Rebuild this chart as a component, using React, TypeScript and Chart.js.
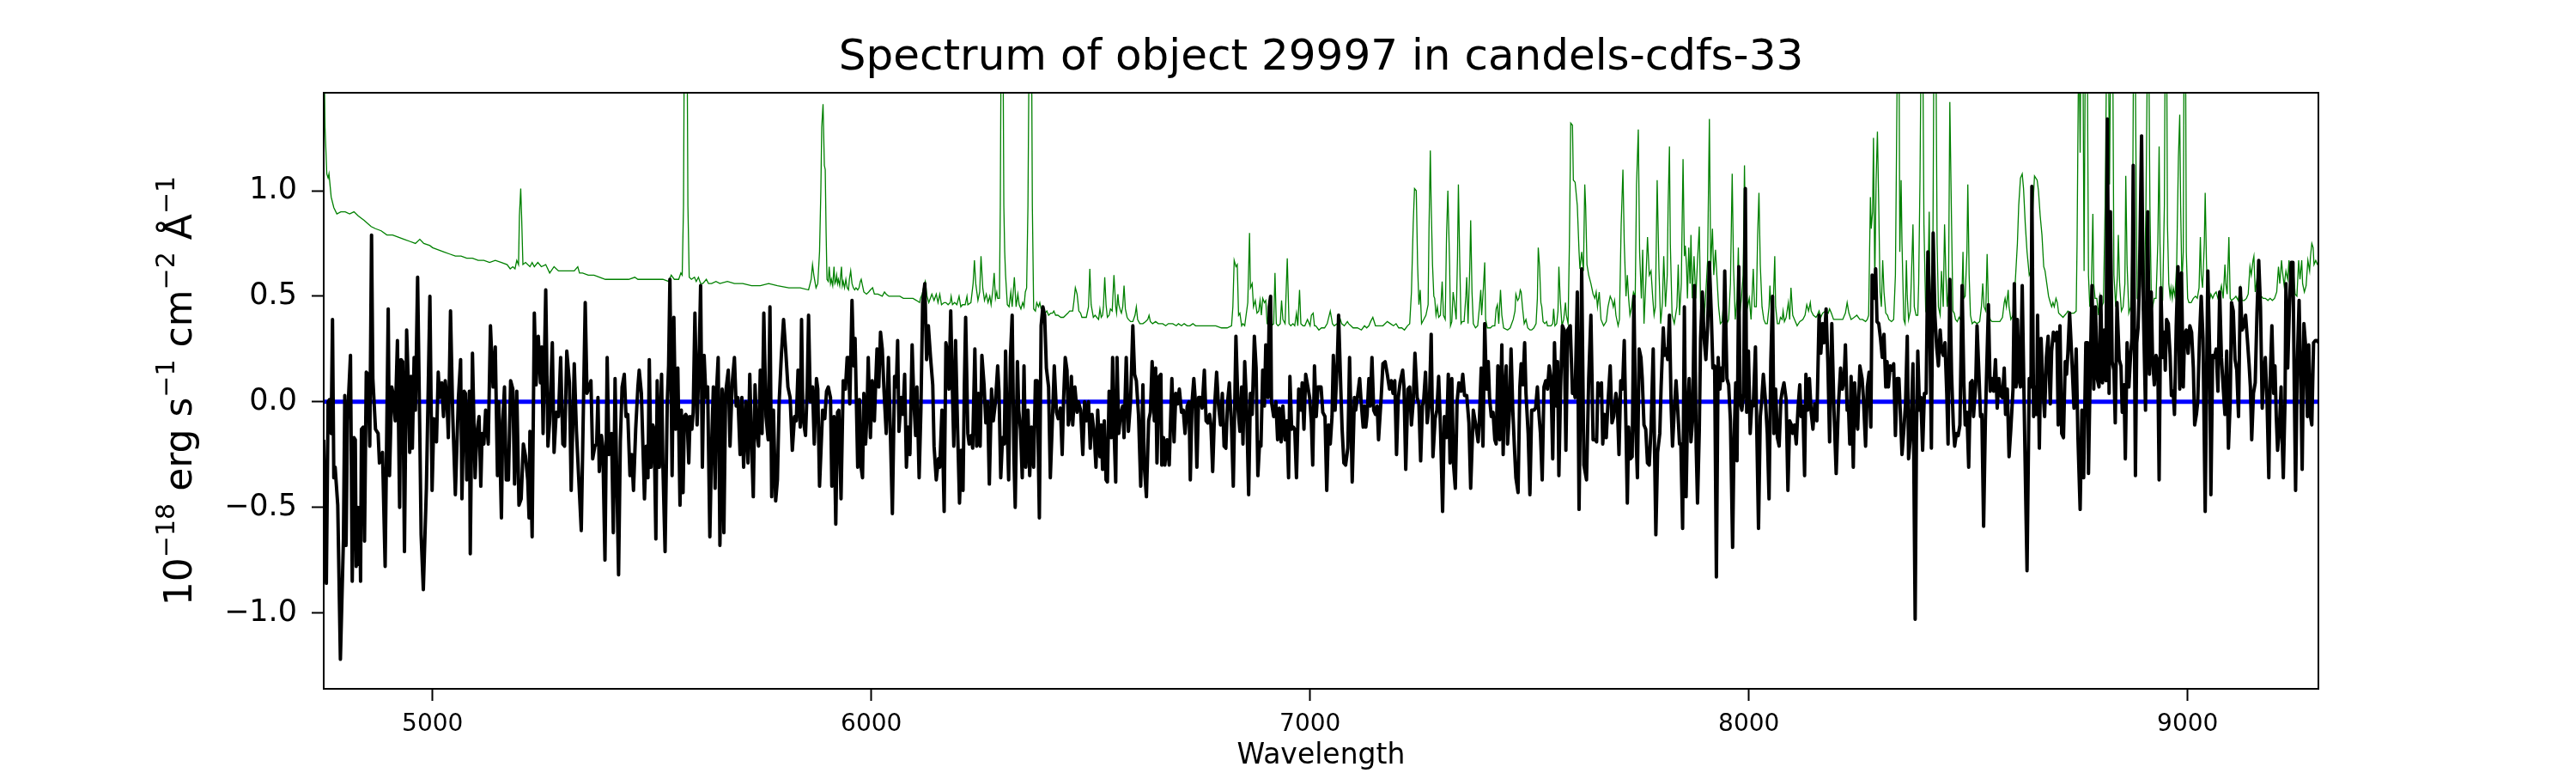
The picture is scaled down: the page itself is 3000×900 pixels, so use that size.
import React, { useEffect, useRef } from "react";
import { Chart, registerables } from "chart.js";

Chart.register(...registerables);

const TITLE = "Spectrum of object 29997 in candels-cdfs-33";
const X_LABEL = "Wavelength";
// [text, isSuperscript]
const Y_LABEL_PARTS: [string, boolean][] = [
  ["10", false], ["\u221218", true], [" erg s", false], ["\u22121", true],
  [" cm", false], ["\u22122", true], [" \u00C5", false], ["\u22121", true],
];
const X_TICKS = [5000, 6000, 7000, 8000, 9000];
const Y_TICKS = [-1.0, -0.5, 0.0, 0.5, 1.0];
const Y_TICK_LABELS = ["\u22121.0", "\u22120.5", "0.0", "0.5", "1.0"];
const X_RANGE = [4752, 9298];
const Y_RANGE = [-1.36, 1.464];

// zero reference line
const ZERO_LINE: number[][] = [[4752, 0], [9298, 0]];

// observed flux [wavelength, flux]
const FLUX: number[][] = [
[4752,-0.18],[4758,-0.86],[4762,0.00],[4765,0.01],[4769,-0.15],[4772,0.39],[4775,-0.36],[4778,-0.31],[4784,-0.49],[4790,-1.22],
[4797,-0.65],[4800,0.03],[4803,-0.68],[4806,-0.09],[4813,0.22],[4817,-0.85],[4821,-0.17],[4824,-0.18],[4826,-0.78],[4829,-0.50],
[4831,-0.77],[4834,-0.50],[4836,-0.85],[4838,-0.13],[4842,-0.12],[4845,-0.66],[4849,0.14],[4853,0.13],[4857,-0.21],[4861,0.79],
[4864,0.11],[4870,-0.13],[4876,-0.15],[4879,-0.29],[4886,-0.24],[4892,-0.78],[4899,0.44],[4902,-0.35],[4907,0.07],[4910,0.04],
[4915,-0.09],[4920,0.29],[4925,-0.50],[4928,0.20],[4932,0.19],[4936,-0.71],[4941,0.34],[4945,0.07],[4948,-0.24],[4951,0.12],
[4954,-0.22],[4958,0.21],[4961,-0.04],[4966,0.59],[4971,-0.15],[4974,-0.63],[4979,-0.89],[4986,-0.41],[4994,0.50],[4999,-0.42],
[5003,-0.08],[5009,-0.19],[5013,0.14],[5016,0.02],[5021,0.09],[5025,-0.07],[5029,0.10],[5033,0.00],[5036,-0.17],[5041,0.43],
[5046,-0.06],[5052,-0.44],[5059,0.02],[5064,0.20],[5067,-0.46],[5072,0.05],[5075,0.04],[5078,-0.37],[5084,0.05],[5086,-0.72],
[5091,0.23],[5097,-0.36],[5101,-0.15],[5106,-0.07],[5110,-0.40],[5113,-0.15],[5117,-0.20],[5121,-0.04],[5127,-0.20],[5132,0.36],
[5138,0.07],[5143,0.26],[5148,-0.35],[5151,0.00],[5157,-0.55],[5160,-0.09],[5164,0.07],[5168,-0.37],[5173,-0.37],[5178,0.10],
[5183,0.06],[5187,-0.39],[5192,0.05],[5197,-0.49],[5202,-0.46],[5207,-0.20],[5212,-0.26],[5217,-0.37],[5220,-0.55],[5222,-0.14],
[5227,-0.64],[5232,0.42],[5236,0.08],[5241,0.31],[5246,0.09],[5249,0.26],[5252,-0.15],[5258,0.53],[5263,-0.21],[5267,-0.09],
[5273,0.28],[5277,-0.24],[5282,-0.05],[5287,-0.07],[5292,0.21],[5297,-0.20],[5301,-0.21],[5306,0.24],[5312,0.09],[5316,-0.42],
[5323,0.18],[5328,-0.14],[5339,-0.61],[5348,0.47],[5352,0.04],[5357,0.07],[5361,0.10],[5365,-0.27],[5370,-0.21],[5374,-0.20],
[5377,0.02],[5380,-0.33],[5385,-0.16],[5388,-0.21],[5393,-0.75],[5398,0.21],[5402,-0.25],[5408,-0.15],[5412,-0.62],[5416,0.11],
[5419,-0.25],[5424,-0.82],[5428,-0.19],[5432,0.07],[5437,0.13],[5441,-0.07],[5445,-0.06],[5450,-0.35],[5454,-0.25],[5458,-0.42],
[5463,-0.13],[5468,0.07],[5471,0.15],[5476,0.04],[5483,-0.46],[5487,-0.21],[5491,-0.36],[5494,0.20],[5498,-0.31],[5502,-0.11],
[5505,-0.13],[5509,-0.65],[5512,0.10],[5517,-0.31],[5522,0.13],[5525,-0.30],[5530,-0.71],[5535,0.00],[5538,0.17],[5541,0.58],
[5546,-0.35],[5550,0.40],[5554,-0.13],[5559,0.16],[5564,-0.49],[5567,-0.04],[5571,-0.43],[5574,-0.07],[5577,-0.06],[5580,-0.07],
[5584,-0.29],[5587,-0.07],[5591,-0.13],[5594,-0.05],[5598,0.42],[5603,-0.11],[5608,0.25],[5611,0.55],[5615,-0.31],[5619,0.22],
[5623,0.02],[5627,0.07],[5632,-0.64],[5636,-0.21],[5640,0.07],[5644,-0.41],[5647,0.04],[5651,0.21],[5655,-0.68],[5660,0.06],
[5664,-0.62],[5668,0.04],[5674,0.15],[5678,-0.21],[5683,0.09],[5688,0.21],[5692,-0.02],[5696,0.02],[5701,-0.25],[5705,0.02],
[5709,-0.31],[5714,0.00],[5719,-0.29],[5723,0.13],[5727,-0.19],[5731,-0.45],[5735,0.08],[5739,-0.14],[5743,-0.21],[5747,0.15],
[5751,-0.15],[5755,0.42],[5760,-0.07],[5765,-0.18],[5769,0.45],[5773,-0.45],[5777,-0.04],[5782,-0.47],[5786,-0.37],[5790,0.00],
[5795,0.22],[5800,0.39],[5805,0.24],[5810,0.07],[5815,0.02],[5820,-0.23],[5825,-0.07],[5829,-0.09],[5833,0.15],[5838,-0.12],
[5841,0.39],[5844,-0.07],[5850,-0.16],[5854,0.07],[5857,0.41],[5861,0.00],[5866,0.07],[5870,-0.20],[5875,0.11],[5878,0.06],
[5882,-0.40],[5889,-0.04],[5894,-0.08],[5898,0.05],[5902,0.07],[5907,0.02],[5910,-0.40],[5915,-0.07],[5919,-0.58],[5923,-0.05],
[5926,-0.04],[5931,-0.46],[5936,0.10],[5941,0.06],[5945,0.21],[5948,0.21],[5951,-0.01],[5956,0.48],[5960,0.17],[5963,0.30],
[5969,-0.31],[5973,0.01],[5976,-0.30],[5980,-0.36],[5983,0.04],[5987,-0.20],[5990,-0.07],[5993,0.21],[5998,-0.17],[6002,0.10],
[6007,-0.09],[6010,0.09],[6013,0.25],[6017,0.07],[6021,0.33],[6025,0.25],[6029,0.05],[6034,-0.15],[6039,0.21],[6043,-0.11],
[6048,-0.53],[6053,0.12],[6057,0.07],[6060,0.29],[6063,-0.14],[6068,0.02],[6072,-0.06],[6076,0.13],[6080,-0.31],[6084,-0.12],
[6088,-0.25],[6093,0.27],[6097,0.00],[6101,-0.16],[6104,0.07],[6109,-0.36],[6113,-0.04],[6117,0.47],[6122,0.56],[6126,0.20],
[6130,0.36],[6135,0.21],[6140,0.08],[6143,-0.21],[6148,-0.37],[6153,-0.27],[6156,-0.31],[6161,-0.04],[6166,-0.52],[6170,0.28],
[6173,0.24],[6177,0.06],[6181,0.43],[6185,0.04],[6188,-0.21],[6192,0.29],[6197,-0.16],[6201,-0.48],[6205,-0.23],[6209,-0.42],
[6212,0.07],[6215,0.40],[6220,-0.15],[6223,-0.20],[6228,-0.16],[6231,-0.22],[6236,0.25],[6240,-0.21],[6244,0.04],[6248,-0.21],
[6252,0.22],[6257,0.08],[6261,-0.10],[6265,0.00],[6269,-0.39],[6274,0.06],[6278,-0.09],[6283,0.00],[6288,0.17],[6291,0.05],
[6295,-0.36],[6299,-0.17],[6303,-0.20],[6306,0.24],[6309,-0.06],[6313,-0.37],[6317,0.21],[6321,0.41],[6325,-0.26],[6328,-0.50],
[6333,0.19],[6336,-0.04],[6340,-0.13],[6344,-0.36],[6348,0.17],[6352,-0.31],[6357,-0.04],[6361,-0.35],[6365,-0.12],[6370,-0.31],
[6374,0.10],[6378,0.10],[6383,-0.55],[6387,0.36],[6391,0.45],[6395,0.41],[6399,0.16],[6404,0.07],[6408,-0.36],[6413,-0.07],
[6417,0.17],[6422,-0.05],[6426,-0.08],[6431,-0.03],[6435,-0.25],[6438,0.00],[6442,0.21],[6446,0.15],[6449,-0.11],[6452,-0.07],
[6456,0.12],[6459,-0.11],[6464,0.07],[6469,-0.05],[6472,0.00],[6477,-0.04],[6482,-0.25],[6486,0.00],[6490,-0.09],[6495,0.00],
[6499,-0.22],[6503,-0.06],[6508,-0.15],[6512,-0.31],[6516,-0.04],[6521,-0.26],[6524,-0.11],[6527,-0.32],[6531,-0.09],[6535,-0.37],
[6538,-0.38],[6542,0.05],[6547,-0.17],[6550,0.21],[6553,-0.12],[6557,-0.38],[6560,0.21],[6564,-0.15],[6568,-0.06],[6573,-0.02],
[6576,-0.17],[6581,0.21],[6586,-0.14],[6591,0.01],[6596,0.36],[6600,0.13],[6604,0.10],[6609,-0.06],[6614,-0.40],[6619,0.08],
[6622,-0.30],[6627,-0.45],[6632,-0.09],[6636,-0.05],[6640,0.19],[6645,-0.09],[6648,0.16],[6651,-0.29],[6656,0.12],[6660,0.13],
[6662,-0.30],[6666,-0.17],[6669,-0.30],[6674,-0.18],[6679,-0.30],[6682,-0.09],[6685,0.11],[6690,-0.19],[6694,0.04],[6698,-0.01],
[6702,0.06],[6707,-0.05],[6711,-0.04],[6715,-0.15],[6720,-0.02],[6724,0.00],[6727,-0.37],[6731,0.00],[6735,0.11],[6738,0.02],
[6742,-0.31],[6746,0.02],[6750,0.02],[6754,-0.03],[6759,0.15],[6763,-0.09],[6767,-0.10],[6771,-0.06],[6774,-0.11],[6778,-0.33],
[6783,0.00],[6787,0.14],[6791,-0.01],[6796,-0.11],[6800,0.04],[6804,-0.21],[6808,-0.22],[6812,0.00],[6816,0.09],[6821,-0.12],
[6825,-0.40],[6831,0.31],[6836,-0.04],[6840,-0.14],[6844,0.07],[6847,-0.20],[6851,0.19],[6855,0.00],[6860,-0.44],[6864,0.04],
[6868,-0.06],[6873,0.31],[6877,0.16],[6881,-0.35],[6885,-0.19],[6888,-0.21],[6892,0.15],[6896,-0.02],[6899,0.27],[6904,0.02],
[6907,0.45],[6910,0.50],[6912,0.00],[6917,-0.07],[6922,0.00],[6926,-0.18],[6930,-0.03],[6934,-0.19],[6938,-0.02],[6943,-0.18],
[6947,-0.09],[6951,-0.36],[6954,0.12],[6958,-0.13],[6962,-0.12],[6965,-0.13],[6969,-0.36],[6974,0.06],[6979,-0.04],[6982,0.09],
[6986,-0.13],[6990,0.13],[6995,0.07],[6999,0.02],[7003,-0.10],[7006,-0.30],[7010,0.17],[7014,-0.07],[7018,0.07],[7025,0.07],
[7029,-0.05],[7034,-0.07],[7038,-0.42],[7042,-0.11],[7046,-0.20],[7050,-0.07],[7053,0.22],[7057,-0.04],[7062,0.19],[7065,0.41],
[7070,0.06],[7073,-0.13],[7077,-0.29],[7081,-0.30],[7086,-0.22],[7090,0.21],[7093,-0.07],[7096,-0.38],[7101,0.02],[7104,-0.04],
[7109,0.04],[7113,0.11],[7116,0.01],[7121,-0.12],[7124,-0.02],[7127,-0.12],[7130,-0.06],[7134,0.11],[7137,-0.02],[7141,0.21],
[7145,-0.04],[7149,-0.06],[7153,-0.02],[7156,-0.18],[7162,0.02],[7166,0.18],[7171,0.19],[7176,0.13],[7181,0.06],[7185,0.10],
[7189,0.04],[7193,0.10],[7197,-0.25],[7201,0.02],[7205,0.09],[7211,0.15],[7214,0.07],[7218,-0.32],[7223,0.06],[7227,0.07],
[7231,-0.11],[7235,0.00],[7239,0.23],[7244,0.02],[7248,-0.01],[7252,-0.28],[7256,-0.02],[7259,0.01],[7263,0.14],[7267,-0.10],
[7272,0.00],[7276,0.32],[7280,-0.26],[7285,-0.08],[7289,-0.04],[7293,0.12],[7297,-0.11],[7302,-0.52],[7306,-0.07],[7311,-0.17],
[7315,0.13],[7319,-0.29],[7323,0.11],[7327,-0.30],[7331,-0.41],[7335,0.00],[7339,0.09],[7344,0.05],[7348,0.13],[7352,0.03],
[7357,0.03],[7362,-0.10],[7366,-0.41],[7372,-0.04],[7376,-0.09],[7379,-0.13],[7383,-0.19],[7386,-0.08],[7390,0.16],[7394,-0.21],
[7398,0.37],[7402,0.06],[7406,0.19],[7409,0.02],[7413,-0.07],[7417,-0.05],[7421,-0.18],[7424,-0.20],[7428,0.17],[7432,-0.18],
[7437,0.27],[7440,-0.25],[7443,0.03],[7447,0.17],[7450,-0.20],[7454,-0.06],[7458,0.25],[7462,-0.04],[7466,-0.23],[7469,-0.36],
[7474,-0.43],[7478,0.07],[7481,0.18],[7485,0.08],[7489,0.28],[7492,0.04],[7497,-0.15],[7501,-0.44],[7505,-0.04],[7510,-0.04],
[7514,-0.03],[7518,0.07],[7522,-0.07],[7525,-0.15],[7529,-0.37],[7533,0.07],[7537,0.10],[7541,0.06],[7545,0.17],[7549,0.11],
[7553,-0.27],[7557,0.28],[7561,-0.02],[7564,0.19],[7567,-0.35],[7571,0.07],[7575,0.36],[7579,0.34],[7583,-0.23],[7587,0.34],
[7593,0.36],[7598,0.04],[7601,0.06],[7604,0.02],[7609,0.52],[7613,-0.51],[7616,-0.02],[7619,0.63],[7624,-0.30],[7630,-0.37],
[7635,0.11],[7640,0.41],[7645,-0.18],[7650,-0.18],[7653,-0.19],[7656,0.09],[7660,0.03],[7664,0.09],[7667,-0.20],[7671,-0.06],
[7675,-0.17],[7679,0.00],[7684,0.17],[7688,-0.10],[7692,-0.07],[7697,0.04],[7700,0.00],[7704,-0.25],[7708,0.10],[7712,0.06],
[7716,0.29],[7720,-0.13],[7723,-0.48],[7726,-0.12],[7730,-0.27],[7734,-0.26],[7738,0.50],[7742,-0.11],[7746,-0.36],[7750,0.25],
[7754,0.21],[7757,0.11],[7761,-0.11],[7765,-0.13],[7769,-0.29],[7773,-0.30],[7777,-0.13],[7782,0.25],[7785,-0.22],[7788,-0.63],
[7792,-0.24],[7797,-0.15],[7800,0.07],[7805,0.35],[7808,0.22],[7812,0.25],[7815,0.20],[7819,0.41],[7823,-0.03],[7826,-0.21],
[7830,-0.04],[7834,0.10],[7838,-0.04],[7842,-0.20],[7845,-0.20],[7849,-0.60],[7853,0.45],[7857,-0.45],[7860,-0.07],[7864,0.11],
[7868,-0.19],[7872,-0.08],[7876,0.55],[7880,-0.22],[7883,-0.48],[7887,-0.14],[7890,0.30],[7894,0.52],[7898,0.30],[7902,0.20],
[7906,0.36],[7910,0.66],[7914,0.44],[7918,0.16],[7922,0.17],[7926,-0.83],[7930,0.21],[7934,0.06],[7937,0.16],[7941,0.10],
[7945,0.62],[7950,0.11],[7954,0.08],[7958,-0.09],[7963,-0.69],[7966,-0.21],[7970,0.09],[7973,-0.28],[7977,0.64],[7980,0.00],
[7984,-0.04],[7988,0.04],[7992,1.01],[7995,-0.05],[7999,0.24],[8003,-0.15],[8007,0.00],[8010,-0.02],[8015,0.26],[8018,-0.13],
[8022,-0.60],[8026,-0.07],[8029,0.00],[8033,0.13],[8038,0.00],[8042,-0.15],[8046,-0.46],[8050,0.19],[8054,0.50],[8057,-0.15],
[8061,0.06],[8065,-0.17],[8069,-0.21],[8073,0.01],[8076,0.05],[8080,0.09],[8085,0.01],[8089,-0.42],[8093,-0.09],[8097,-0.11],
[8100,-0.15],[8104,-0.11],[8108,-0.20],[8112,-0.03],[8116,0.08],[8119,-0.07],[8123,-0.02],[8127,-0.35],[8130,0.13],[8134,-0.04],
[8138,0.11],[8142,-0.05],[8146,-0.13],[8150,-0.01],[8155,-0.09],[8160,0.41],[8164,0.23],[8168,0.37],[8172,0.28],[8176,0.44],
[8180,0.19],[8184,-0.19],[8189,0.37],[8194,-0.04],[8199,-0.34],[8204,-0.02],[8209,0.16],[8213,0.06],[8217,0.10],[8220,0.27],
[8224,-0.04],[8227,-0.02],[8230,-0.20],[8233,0.12],[8238,-0.31],[8241,0.09],[8245,-0.07],[8248,-0.13],[8253,0.17],[8258,0.11],
[8261,0.02],[8266,-0.21],[8270,0.07],[8274,0.14],[8278,-0.12],[8281,0.60],[8286,0.49],[8289,0.63],[8292,0.38],[8296,0.37],
[8300,0.30],[8304,0.21],[8308,0.32],[8312,0.07],[8315,0.19],[8318,0.07],[8322,0.17],[8326,0.15],[8330,0.18],[8334,-0.16],
[8338,0.11],[8342,0.11],[8346,-0.09],[8349,-0.25],[8354,-0.11],[8357,-0.01],[8361,0.31],[8364,-0.27],[8369,-0.15],[8374,0.18],
[8379,-1.03],[8382,-0.15],[8385,0.24],[8389,-0.04],[8392,0.02],[8396,-0.23],[8400,0.04],[8404,0.04],[8408,0.71],[8412,0.45],
[8416,-0.22],[8420,0.80],[8424,0.41],[8428,0.26],[8432,0.17],[8436,0.34],[8439,0.25],[8443,0.22],[8447,0.28],[8451,0.04],
[8454,-0.20],[8458,0.58],[8462,0.13],[8466,-0.11],[8469,-0.21],[8473,-0.15],[8477,-0.16],[8481,-0.11],[8486,0.55],[8490,0.09],
[8493,-0.11],[8497,-0.05],[8501,-0.31],[8505,0.09],[8509,0.10],[8512,-0.07],[8517,0.08],[8520,0.36],[8524,0.15],[8528,-0.07],
[8531,-0.06],[8535,-0.59],[8539,-0.09],[8542,0.15],[8546,0.46],[8550,0.05],[8554,0.11],[8558,0.05],[8562,0.20],[8566,-0.03],
[8570,0.11],[8574,0.03],[8578,0.02],[8582,0.16],[8585,-0.06],[8589,0.06],[8593,-0.26],[8597,-0.13],[8602,0.06],[8605,0.56],
[8609,0.07],[8612,0.39],[8616,0.10],[8619,0.07],[8623,0.55],[8627,0.04],[8631,-0.46],[8634,-0.80],[8639,0.11],[8643,0.07],
[8645,1.02],[8649,-0.07],[8652,0.07],[8656,-0.06],[8658,0.41],[8662,-0.22],[8666,0.30],[8670,0.07],[8674,-0.07],[8678,0.21],
[8682,0.31],[8687,-0.01],[8690,0.24],[8694,0.33],[8698,0.29],[8702,0.33],[8705,-0.11],[8709,0.36],[8713,-0.15],[8717,-0.17],
[8721,0.19],[8724,0.13],[8727,0.23],[8731,0.42],[8735,0.25],[8741,-0.03],[8746,0.25],[8750,-0.17],[8755,-0.51],[8759,-0.04],
[8763,-0.36],[8768,0.28],[8772,0.28],[8774,-0.34],[8778,0.15],[8782,0.55],[8786,0.06],[8790,0.45],[8794,0.11],[8798,0.07],
[8802,0.50],[8806,0.09],[8810,0.34],[8814,0.10],[8817,1.34],[8821,0.04],[8824,0.90],[8828,0.19],[8832,0.15],[8835,-0.10],
[8839,0.47],[8844,0.20],[8848,0.17],[8851,-0.05],[8855,0.08],[8858,-0.27],[8862,0.28],[8866,0.07],[8870,0.22],[8873,0.30],
[8876,1.12],[8881,-0.35],[8884,0.28],[8887,0.35],[8890,0.55],[8895,1.26],[8899,0.45],[8904,-0.04],[8909,0.90],[8913,0.13],
[8917,0.52],[8920,0.21],[8924,0.08],[8928,0.22],[8932,0.19],[8935,-0.37],[8939,0.54],[8943,0.21],[8947,0.33],[8949,0.15],
[8952,0.39],[8956,0.37],[8960,0.22],[8963,0.03],[8967,0.05],[8970,-0.06],[8974,0.36],[8978,0.64],[8982,0.06],[8986,0.61],
[8990,0.07],[8993,0.32],[8997,0.34],[9001,0.23],[9005,0.36],[9009,0.33],[9013,0.16],[9016,-0.11],[9020,-0.06],[9023,0.00],
[9027,0.30],[9031,0.50],[9035,0.30],[9040,-0.52],[9043,0.07],[9046,0.62],[9050,0.26],[9053,-0.44],[9057,0.22],[9061,0.21],
[9065,0.25],[9069,0.05],[9073,0.52],[9077,0.21],[9081,0.07],[9085,-0.06],[9089,0.24],[9093,-0.22],[9097,0.00],[9100,0.47],
[9104,0.43],[9108,0.20],[9112,0.15],[9116,-0.07],[9120,0.54],[9124,0.34],[9128,0.36],[9132,0.41],[9136,0.30],[9140,0.18],
[9143,0.07],[9146,-0.18],[9150,0.04],[9154,0.09],[9158,0.42],[9162,0.67],[9166,0.45],[9170,-0.03],[9173,0.13],[9177,0.21],
[9181,0.00],[9185,-0.36],[9188,0.10],[9192,0.36],[9196,0.04],[9199,0.17],[9202,-0.07],[9205,-0.23],[9209,-0.13],[9213,0.07],
[9215,-0.15],[9218,-0.36],[9222,0.01],[9224,0.56],[9228,0.16],[9232,0.45],[9236,0.66],[9240,0.66],[9243,0.07],[9246,-0.42],
[9250,0.19],[9254,0.48],[9258,0.07],[9261,-0.32],[9265,0.37],[9269,0.26],[9273,-0.07],[9276,0.27],[9280,-0.07],[9283,-0.11],
[9287,0.28],[9291,0.29],[9295,0.29],[9298,0.28],
];

// model / sky spectrum [wavelength, flux]
const MODEL: number[][] = [
[4752,1.80],[4755,1.30],[4759,1.08],[4762,1.06],[4764,1.08],[4769,0.97],[4775,0.92],[4782,0.89],[4791,0.90],[4801,0.90],
[4811,0.89],[4821,0.90],[4831,0.88],[4844,0.86],[4860,0.83],[4870,0.82],[4883,0.81],[4896,0.79],[4909,0.79],[4922,0.78],
[4935,0.77],[4948,0.76],[4961,0.75],[4971,0.77],[4980,0.75],[4994,0.74],[5000,0.73],[5013,0.72],[5026,0.71],[5039,0.70],
[5052,0.69],[5065,0.69],[5078,0.68],[5091,0.68],[5104,0.67],[5117,0.67],[5130,0.66],[5143,0.67],[5157,0.66],[5170,0.65],
[5177,0.63],[5183,0.64],[5188,0.63],[5192,0.67],[5196,0.65],[5198,0.88],[5201,1.01],[5203,0.88],[5206,0.65],[5212,0.66],
[5222,0.64],[5227,0.66],[5232,0.64],[5240,0.66],[5248,0.64],[5258,0.65],[5267,0.61],[5277,0.64],[5287,0.62],[5306,0.62],
[5316,0.62],[5323,0.62],[5331,0.64],[5335,0.61],[5342,0.61],[5355,0.60],[5368,0.60],[5381,0.59],[5394,0.58],[5408,0.58],
[5421,0.58],[5437,0.58],[5447,0.58],[5461,0.59],[5468,0.58],[5486,0.58],[5505,0.58],[5525,0.58],[5538,0.57],[5544,0.60],
[5551,0.58],[5561,0.58],[5566,0.61],[5569,0.60],[5572,0.93],[5574,1.80],[5580,1.80],[5582,0.93],[5585,0.59],[5590,0.58],
[5597,0.59],[5601,0.57],[5606,0.59],[5611,0.56],[5616,0.56],[5624,0.58],[5629,0.56],[5636,0.56],[5646,0.57],[5655,0.56],
[5672,0.57],[5688,0.56],[5707,0.56],[5727,0.55],[5747,0.55],[5766,0.56],[5786,0.55],[5812,0.54],[5838,0.54],[5857,0.53],
[5863,0.58],[5866,0.65],[5869,0.60],[5874,0.54],[5878,0.56],[5882,0.71],[5885,1.00],[5887,1.30],[5890,1.41],[5893,1.12],
[5895,1.10],[5897,0.80],[5899,0.58],[5902,0.57],[5904,0.64],[5907,0.56],[5909,0.58],[5912,0.55],[5915,0.64],[5917,0.56],
[5919,0.57],[5921,0.60],[5923,0.56],[5925,0.58],[5928,0.55],[5932,0.64],[5934,0.55],[5936,0.57],[5939,0.54],[5942,0.58],
[5945,0.54],[5948,0.53],[5950,0.58],[5953,0.62],[5956,0.56],[5959,0.54],[5962,0.53],[5965,0.54],[5969,0.53],[5972,0.54],
[5975,0.57],[5977,0.58],[5980,0.55],[5983,0.52],[5989,0.51],[5994,0.52],[5998,0.53],[6003,0.54],[6007,0.51],[6015,0.51],
[6025,0.50],[6030,0.52],[6034,0.51],[6040,0.50],[6050,0.50],[6058,0.50],[6065,0.50],[6073,0.49],[6082,0.49],[6095,0.49],
[6103,0.48],[6110,0.47],[6112,0.49],[6116,0.51],[6120,0.55],[6123,0.57],[6127,0.50],[6131,0.47],[6138,0.51],[6143,0.48],
[6148,0.51],[6152,0.47],[6156,0.51],[6160,0.46],[6166,0.47],[6170,0.47],[6175,0.46],[6180,0.47],[6182,0.50],[6185,0.46],
[6190,0.47],[6195,0.46],[6200,0.50],[6204,0.45],[6208,0.46],[6214,0.46],[6218,0.50],[6220,0.46],[6227,0.47],[6232,0.56],
[6235,0.67],[6238,0.56],[6243,0.48],[6247,0.52],[6250,0.69],[6254,0.54],[6258,0.48],[6262,0.51],[6266,0.47],[6270,0.50],
[6273,0.46],[6277,0.53],[6280,0.61],[6283,0.49],[6286,0.52],[6288,0.49],[6292,0.49],[6294,0.93],[6296,1.80],[6300,1.80],
[6302,0.93],[6304,0.71],[6306,0.60],[6310,0.46],[6314,0.45],[6318,0.52],[6321,0.45],[6326,0.59],[6330,0.45],[6334,0.51],
[6337,0.46],[6341,0.44],[6345,0.47],[6348,0.45],[6351,0.52],[6354,0.54],[6357,0.93],[6360,1.80],[6365,1.80],[6367,0.93],
[6370,0.44],[6374,0.43],[6377,0.47],[6381,0.45],[6384,0.47],[6387,0.44],[6392,0.44],[6396,0.42],[6400,0.43],[6404,0.41],
[6409,0.42],[6413,0.42],[6416,0.43],[6420,0.41],[6425,0.41],[6432,0.40],[6438,0.40],[6443,0.41],[6448,0.42],[6452,0.43],
[6459,0.43],[6462,0.48],[6465,0.54],[6469,0.51],[6473,0.43],[6477,0.42],[6480,0.40],[6485,0.40],[6490,0.40],[6495,0.45],
[6498,0.63],[6501,0.46],[6506,0.40],[6510,0.41],[6514,0.40],[6518,0.39],[6521,0.44],[6524,0.40],[6527,0.41],[6529,0.45],
[6532,0.59],[6535,0.46],[6538,0.40],[6542,0.41],[6545,0.44],[6549,0.43],[6553,0.60],[6557,0.45],[6559,0.42],[6562,0.51],
[6564,0.46],[6568,0.43],[6570,0.42],[6573,0.45],[6576,0.55],[6579,0.44],[6583,0.40],[6586,0.39],[6591,0.38],[6596,0.38],
[6601,0.41],[6604,0.45],[6607,0.39],[6612,0.37],[6619,0.37],[6625,0.38],[6630,0.39],[6633,0.41],[6636,0.38],[6641,0.37],
[6648,0.38],[6654,0.37],[6664,0.37],[6671,0.36],[6677,0.37],[6687,0.37],[6695,0.36],[6700,0.37],[6707,0.36],[6713,0.37],
[6720,0.36],[6726,0.36],[6733,0.37],[6739,0.36],[6746,0.36],[6759,0.36],[6772,0.36],[6785,0.36],[6798,0.35],[6811,0.35],
[6821,0.36],[6824,0.45],[6827,0.67],[6831,0.64],[6834,0.65],[6837,0.41],[6840,0.42],[6844,0.36],[6847,0.37],[6851,0.36],
[6858,0.47],[6862,0.80],[6864,0.54],[6868,0.56],[6871,0.45],[6875,0.48],[6879,0.42],[6883,0.43],[6886,0.48],[6889,0.41],
[6892,0.49],[6896,0.47],[6899,0.48],[6902,0.37],[6905,0.37],[6909,0.44],[6912,0.36],[6917,0.37],[6920,0.61],[6923,0.37],
[6927,0.36],[6932,0.37],[6935,0.48],[6938,0.39],[6943,0.37],[6948,0.68],[6952,0.37],[6956,0.36],[6961,0.37],[6965,0.36],
[6969,0.42],[6972,0.36],[6976,0.53],[6979,0.37],[6984,0.36],[6988,0.36],[6994,0.39],[7000,0.36],[7003,0.41],[7007,0.42],
[7010,0.36],[7013,0.36],[7020,0.34],[7026,0.35],[7033,0.35],[7039,0.37],[7046,0.43],[7051,0.37],[7055,0.36],[7062,0.37],
[7066,0.41],[7072,0.37],[7078,0.36],[7085,0.38],[7088,0.37],[7093,0.36],[7098,0.35],[7108,0.35],[7117,0.34],[7124,0.36],
[7129,0.35],[7134,0.36],[7138,0.38],[7143,0.40],[7149,0.36],[7153,0.36],[7160,0.36],[7166,0.36],[7176,0.38],[7183,0.37],
[7190,0.36],[7196,0.37],[7202,0.35],[7209,0.35],[7215,0.34],[7222,0.36],[7227,0.37],[7231,0.52],[7235,0.84],[7238,1.01],
[7242,1.00],[7245,0.65],[7248,0.46],[7251,0.53],[7254,0.37],[7259,0.39],[7264,0.41],[7269,0.46],[7271,0.82],[7274,1.19],
[7276,0.93],[7279,0.65],[7282,0.50],[7284,0.49],[7287,0.41],[7290,0.45],[7293,0.40],[7297,0.41],[7301,0.57],[7304,0.41],
[7308,0.39],[7311,0.79],[7314,1.00],[7318,0.65],[7320,0.36],[7323,0.38],[7326,0.52],[7329,0.47],[7333,0.39],[7336,0.69],
[7338,1.03],[7341,0.67],[7344,0.37],[7347,0.38],[7351,0.38],[7355,0.50],[7357,0.59],[7360,0.37],[7364,0.64],[7366,0.86],
[7369,0.52],[7372,0.37],[7377,0.35],[7382,0.36],[7386,0.45],[7389,0.53],[7391,0.41],[7395,0.54],[7398,0.66],[7400,0.39],
[7404,0.35],[7411,0.35],[7416,0.36],[7421,0.36],[7424,0.44],[7427,0.46],[7430,0.37],[7434,0.53],[7437,0.41],[7441,0.35],
[7450,0.34],[7456,0.35],[7463,0.39],[7467,0.43],[7469,0.51],[7473,0.48],[7476,0.49],[7479,0.53],[7481,0.52],[7484,0.45],
[7488,0.37],[7492,0.39],[7496,0.35],[7501,0.34],[7505,0.34],[7510,0.35],[7515,0.37],[7518,0.49],[7520,0.73],[7523,0.64],
[7526,0.47],[7528,0.45],[7531,0.38],[7535,0.37],[7539,0.38],[7541,0.36],[7545,0.36],[7549,0.36],[7553,0.37],[7555,0.44],
[7558,0.36],[7562,0.37],[7565,0.43],[7567,0.64],[7570,0.49],[7574,0.36],[7578,0.39],[7582,0.47],[7584,0.41],[7588,0.37],
[7591,0.75],[7594,1.32],[7598,1.31],[7600,1.05],[7604,1.04],[7609,0.93],[7613,0.71],[7615,0.63],[7619,0.71],[7623,0.62],
[7626,1.03],[7628,0.93],[7631,0.65],[7635,0.60],[7640,0.56],[7645,0.51],[7649,0.49],[7652,0.52],[7655,0.45],[7659,0.52],
[7663,0.39],[7669,0.36],[7675,0.38],[7679,0.45],[7684,0.50],[7688,0.48],[7691,0.45],[7694,0.48],[7697,0.41],[7702,0.36],
[7705,0.39],[7709,0.84],[7713,1.10],[7716,0.75],[7720,0.50],[7723,0.60],[7726,0.49],[7729,0.41],[7733,0.45],[7737,0.52],
[7741,0.50],[7744,1.03],[7748,1.29],[7751,0.71],[7755,0.49],[7758,0.72],[7761,0.37],[7765,0.56],[7769,0.78],[7773,0.60],
[7777,0.62],[7781,0.49],[7784,0.41],[7787,0.45],[7791,1.05],[7795,0.63],[7799,0.37],[7803,0.47],[7806,0.69],[7810,0.45],
[7814,0.60],[7816,0.93],[7819,1.21],[7821,0.75],[7825,0.41],[7830,0.37],[7836,0.45],[7839,0.65],[7842,0.41],[7846,0.56],
[7850,1.15],[7853,0.69],[7855,0.74],[7858,0.64],[7860,0.49],[7863,0.73],[7866,0.56],[7868,0.79],[7871,0.49],[7875,0.69],
[7879,0.49],[7883,0.67],[7887,0.83],[7890,0.45],[7894,0.37],[7898,0.39],[7902,0.52],[7906,0.67],[7910,1.34],[7913,0.64],
[7917,0.82],[7920,0.60],[7924,0.72],[7927,0.60],[7931,0.45],[7935,0.37],[7939,0.38],[7943,0.49],[7947,0.45],[7950,0.37],
[7954,0.39],[7958,0.56],[7962,1.08],[7965,0.64],[7969,0.39],[7973,0.49],[7976,0.73],[7979,0.41],[7983,0.49],[7987,0.60],
[7990,1.12],[7993,0.62],[7997,0.45],[8001,0.49],[8005,0.39],[8010,0.63],[8013,0.45],[8017,0.45],[8020,0.79],[8023,0.99],
[8026,0.65],[8030,0.45],[8034,0.39],[8038,0.37],[8042,0.37],[8046,0.45],[8048,0.55],[8052,0.37],[8056,0.49],[8059,0.69],
[8061,0.45],[8065,0.37],[8069,0.37],[8072,0.40],[8076,0.39],[8078,0.43],[8081,0.38],[8085,0.40],[8090,0.47],[8093,0.39],
[8096,0.54],[8100,0.41],[8104,0.39],[8110,0.36],[8116,0.38],[8123,0.39],[8128,0.41],[8132,0.46],[8136,0.43],[8140,0.47],
[8142,0.43],[8147,0.41],[8153,0.40],[8156,0.41],[8160,0.43],[8164,0.40],[8168,0.42],[8175,0.43],[8181,0.42],[8184,0.44],
[8188,0.42],[8193,0.39],[8201,0.39],[8207,0.39],[8214,0.39],[8220,0.42],[8224,0.47],[8228,0.42],[8233,0.39],[8240,0.40],
[8246,0.41],[8253,0.39],[8259,0.39],[8266,0.38],[8270,0.39],[8273,0.41],[8275,0.69],[8277,0.97],[8279,0.82],[8282,0.90],
[8284,1.25],[8287,0.56],[8290,1.05],[8293,1.28],[8296,0.93],[8299,0.52],[8302,0.45],[8305,0.67],[8308,0.52],[8312,0.42],
[8316,0.41],[8319,0.39],[8325,0.38],[8330,0.39],[8334,0.60],[8336,1.07],[8339,1.80],[8342,1.80],[8344,0.71],[8347,1.05],
[8349,0.75],[8353,0.39],[8356,0.37],[8359,0.67],[8361,0.50],[8364,0.39],[8368,0.43],[8370,0.56],[8374,0.84],[8377,0.45],
[8381,0.41],[8385,0.41],[8387,0.56],[8390,1.05],[8393,1.80],[8396,1.80],[8399,0.84],[8403,0.43],[8407,0.41],[8411,0.90],
[8413,0.52],[8416,0.45],[8419,0.56],[8422,1.80],[8426,1.80],[8429,0.75],[8432,0.45],[8436,0.41],[8439,0.62],[8443,0.45],
[8446,0.84],[8449,0.60],[8452,0.45],[8455,0.52],[8458,1.42],[8462,0.84],[8465,0.43],[8468,0.42],[8471,0.39],[8475,0.38],
[8479,0.40],[8482,0.39],[8485,0.45],[8488,0.71],[8490,0.49],[8493,0.50],[8497,0.71],[8499,1.03],[8502,0.60],[8505,0.41],
[8509,0.37],[8514,0.38],[8520,0.37],[8526,0.38],[8530,0.45],[8533,0.56],[8536,0.45],[8540,0.43],[8543,0.70],[8546,0.45],
[8550,0.39],[8554,0.38],[8560,0.38],[8566,0.38],[8572,0.38],[8578,0.40],[8582,0.47],[8584,0.49],[8587,0.45],[8591,0.53],
[8593,0.45],[8597,0.39],[8602,0.41],[8605,0.49],[8608,0.60],[8612,0.75],[8615,0.93],[8619,1.06],[8623,1.08],[8626,1.01],
[8630,0.84],[8634,0.71],[8639,0.60],[8643,0.62],[8647,0.91],[8651,1.07],[8654,1.06],[8657,1.05],[8660,1.00],[8664,0.88],
[8668,0.79],[8672,0.64],[8675,0.62],[8679,0.56],[8683,0.50],[8687,0.47],[8690,0.45],[8693,0.47],[8696,0.45],[8700,0.49],
[8703,0.47],[8706,0.42],[8711,0.41],[8716,0.40],[8720,0.41],[8724,0.42],[8727,0.43],[8734,0.42],[8741,0.42],[8746,0.43],
[8748,0.75],[8752,1.80],[8755,1.18],[8757,1.80],[8761,1.80],[8764,0.62],[8767,1.80],[8771,1.80],[8774,0.60],[8777,0.45],
[8780,0.50],[8784,0.89],[8786,0.56],[8789,0.49],[8793,0.49],[8797,0.41],[8800,0.50],[8804,0.45],[8808,0.47],[8812,0.93],
[8816,1.80],[8819,1.80],[8822,1.03],[8825,1.80],[8829,1.80],[8832,0.60],[8836,0.45],[8840,0.60],[8842,0.79],[8845,0.56],
[8849,0.43],[8853,0.45],[8857,0.56],[8859,1.07],[8862,0.65],[8866,0.42],[8870,0.45],[8872,0.60],[8875,1.03],[8877,1.80],
[8880,1.80],[8883,0.93],[8885,0.49],[8889,0.47],[8892,0.65],[8894,0.71],[8897,0.45],[8901,0.49],[8905,0.93],[8909,1.80],
[8911,1.80],[8914,0.93],[8917,0.52],[8920,0.45],[8924,0.49],[8928,0.49],[8932,0.75],[8935,1.21],[8937,0.75],[8940,0.47],
[8943,0.48],[8947,0.93],[8949,1.80],[8952,1.80],[8954,0.84],[8957,0.56],[8960,0.50],[8962,0.54],[8965,0.49],[8967,0.54],
[8971,0.50],[8975,0.65],[8979,1.16],[8982,1.36],[8984,0.93],[8987,0.56],[8990,0.71],[8992,1.80],[8995,1.80],[8997,0.71],
[9000,0.49],[9003,0.47],[9008,0.47],[9013,0.49],[9018,0.50],[9022,0.49],[9026,0.54],[9029,0.78],[9031,0.60],[9034,0.54],
[9038,0.75],[9040,0.99],[9043,0.65],[9046,0.49],[9050,0.48],[9053,0.51],[9057,0.49],[9061,0.51],[9065,0.52],[9069,0.49],
[9073,0.51],[9077,0.55],[9081,0.49],[9085,0.65],[9087,0.56],[9090,0.51],[9094,0.78],[9097,0.49],[9100,0.48],[9106,0.49],
[9110,0.50],[9115,0.48],[9120,0.54],[9124,0.48],[9129,0.48],[9134,0.49],[9138,0.51],[9142,0.64],[9145,0.60],[9149,0.67],
[9151,0.69],[9154,0.52],[9158,0.58],[9162,0.67],[9164,0.54],[9168,0.50],[9172,0.49],[9177,0.49],[9183,0.48],[9188,0.49],
[9193,0.48],[9198,0.49],[9203,0.52],[9207,0.64],[9210,0.56],[9214,0.67],[9216,0.62],[9220,0.55],[9224,0.62],[9228,0.58],
[9231,0.67],[9233,0.56],[9237,0.55],[9241,0.62],[9245,0.51],[9249,0.50],[9253,0.67],[9256,0.58],[9260,0.67],[9262,0.56],
[9266,0.52],[9270,0.55],[9274,0.67],[9278,0.62],[9280,0.69],[9283,0.75],[9286,0.73],[9288,0.65],[9292,0.67],[9296,0.65],
[9298,0.65],
];

const FONT = "'DejaVu Sans', sans-serif";

const toPoints = (arr: number[][]) => arr.map(([x, y]) => ({ x, y }));

const decorPlugin = {
  id: "decor",
  afterDraw(chart: any) {
    const { ctx, chartArea } = chart;
    const { left, right, top, bottom } = chartArea;
    const cx = (left + right) / 2;
    const cy = (top + bottom) / 2;
    ctx.save();
    // spines
    ctx.strokeStyle = "#000000";
    ctx.lineWidth = 2;
    ctx.strokeRect(left, top, right - left, bottom - top);
    ctx.fillStyle = "#000000";
    // title
    ctx.font = `50px ${FONT}`;
    ctx.textAlign = "center";
    ctx.textBaseline = "alphabetic";
    ctx.fillText(TITLE, cx, 81);
    // x label
    ctx.font = `33px ${FONT}`;
    ctx.fillText(X_LABEL, cx, 889);
    // y label with superscripts
    const mainFont = `44px ${FONT}`;
    const supFont = `30px ${FONT}`;
    let total = 0;
    const widths = Y_LABEL_PARTS.map(([t, sup]) => {
      ctx.font = sup ? supFont : mainFont;
      const w = ctx.measureText(t).width;
      total += w;
      return w;
    });
    ctx.translate(223, cy);
    ctx.rotate(-Math.PI / 2);
    ctx.textAlign = "left";
    let x = -total / 2;
    Y_LABEL_PARTS.forEach(([t, sup], i) => {
      ctx.font = sup ? supFont : mainFont;
      ctx.fillText(t, x, sup ? -20 : 0);
      x += widths[i];
    });
    ctx.restore();
  },
};

export default function App() {
  const canvasRef = useRef<HTMLCanvasElement | null>(null);

  useEffect(() => {
    const canvas = canvasRef.current;
    if (!canvas) return;
    const common = { pointRadius: 0, pointHoverRadius: 0, tension: 0, fill: false, clip: 0, spanGaps: true };
    const chart = new Chart(canvas, {
      type: "line",
      data: {
        datasets: [
          { label: "flux", data: toPoints(FLUX), borderColor: "#000000", borderWidth: 4, borderJoinStyle: "round", ...common },
          { label: "model", data: toPoints(MODEL), borderColor: "#008000", borderWidth: 1.3, ...common },
          { label: "zero", data: toPoints(ZERO_LINE), borderColor: "#0000ff", borderWidth: 5, ...common },
        ],
      },
      options: {
        animation: false,
        responsive: false,
        devicePixelRatio: 1,
        events: [],
        layout: { padding: { left: 0, right: 300, top: 108, bottom: 0 } },
        plugins: {
          legend: { display: false },
          title: { display: false },
          tooltip: { enabled: false },
        },
        scales: {
          x: {
            type: "linear",
            min: X_RANGE[0],
            max: X_RANGE[1],
            afterBuildTicks: (scale: any) => {
              scale.ticks = X_TICKS.map((v) => ({ value: v }));
            },
            afterFit: (scale: any) => {
              scale.height = 98;
            },
            grid: { drawOnChartArea: false, drawTicks: true, tickLength: 14, tickColor: "#000000", tickWidth: 2 },
            border: { display: true, color: "#000000", width: 2 },
            ticks: {
              color: "#000000",
              font: { family: FONT, size: 28 },
              padding: 11,
              maxRotation: 0,
              autoSkip: false,
              callback: (v: any) => String(v),
            },
          },
          y: {
            type: "linear",
            min: Y_RANGE[0],
            max: Y_RANGE[1],
            afterBuildTicks: (scale: any) => {
              scale.ticks = Y_TICKS.map((v) => ({ value: v }));
            },
            afterFit: (scale: any) => {
              scale.width = 377;
            },
            grid: { drawOnChartArea: false, drawTicks: true, tickLength: 14, tickColor: "#000000", tickWidth: 2 },
            border: { display: true, color: "#000000", width: 2 },
            ticks: {
              color: "#000000",
              font: { family: FONT, size: 35 },
              padding: 17,
              autoSkip: false,
              callback: (_v: any, i: number) => Y_TICK_LABELS[i],
            },
          },
        },
      },
      plugins: [decorPlugin],
    } as any);
    return () => chart.destroy();
  }, []);

  return (
    <div style={{ position: "absolute", left: 0, top: 0, width: 3000, height: 900, background: "#ffffff" }}>
      <canvas ref={canvasRef} width={3000} height={900} style={{ width: 3000, height: 900, display: "block" }} />
    </div>
  );
}
